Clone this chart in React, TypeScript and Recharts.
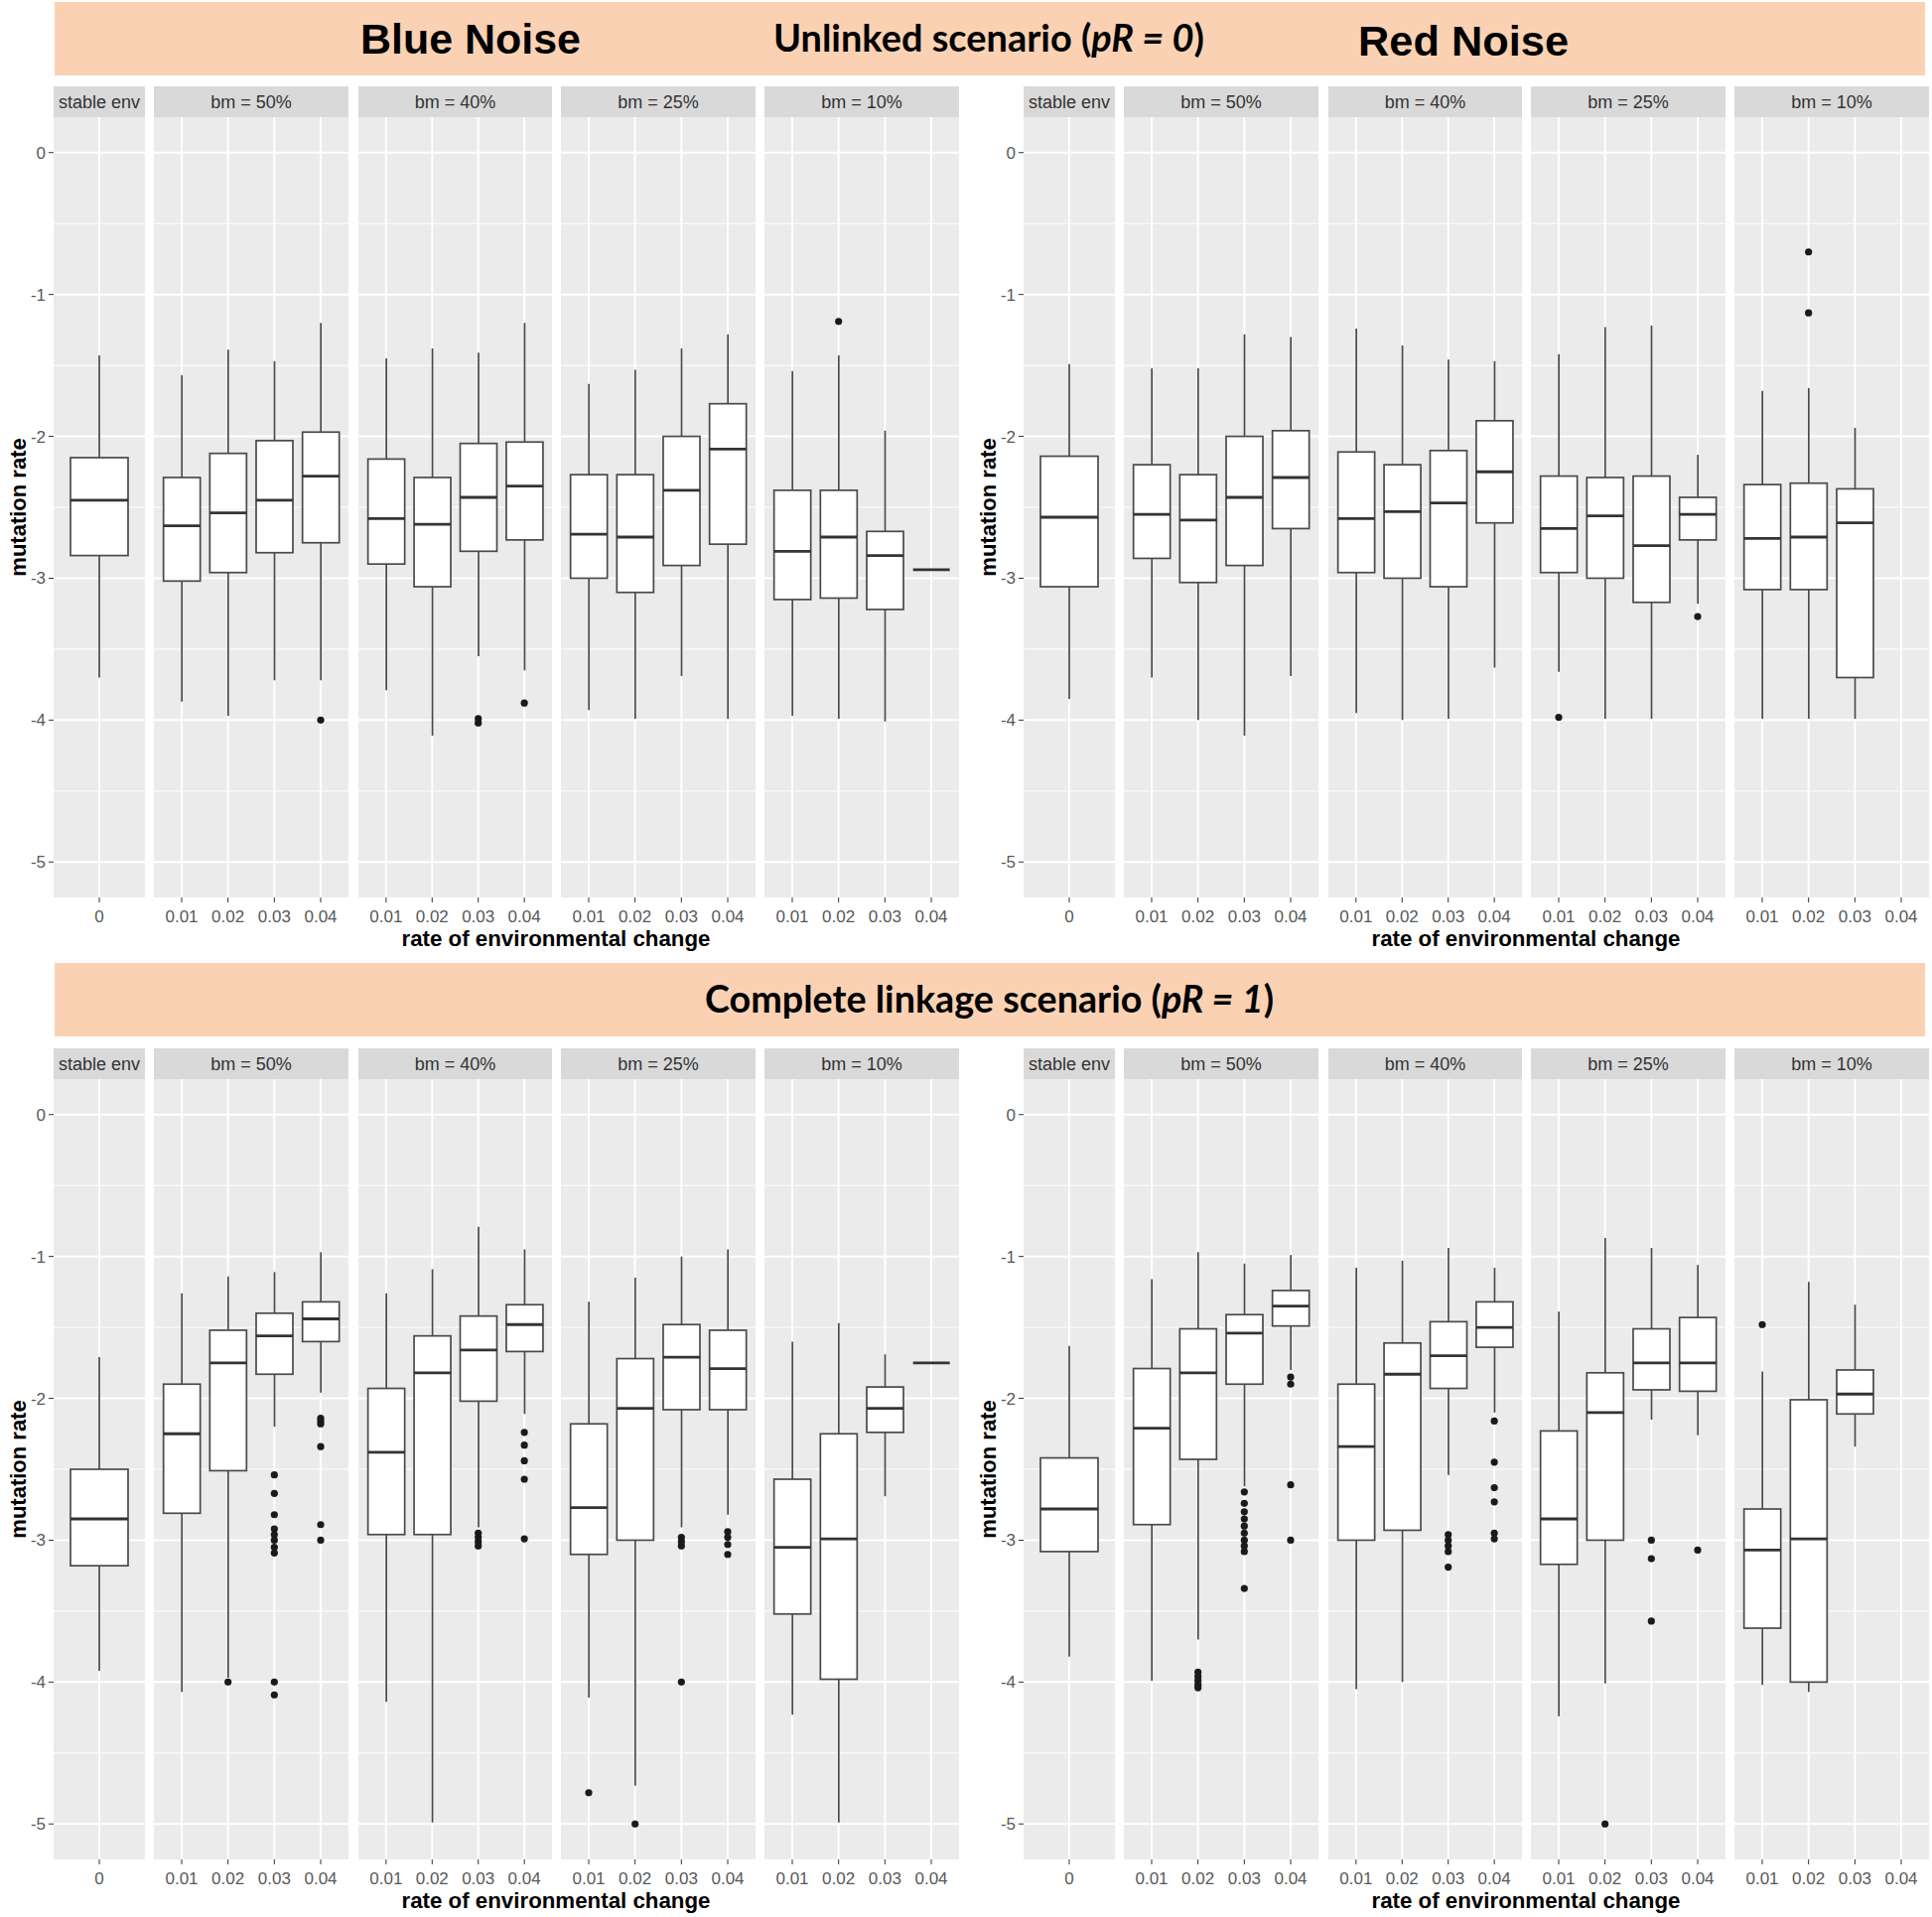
import React from 'react';
import { ComposedChart, Bar, Line, XAxis, YAxis, CartesianGrid } from 'recharts';

// ---------- labels / ticks ----------
const PANEL_LABELS = ['stable env', 'bm = 50%', 'bm = 40%', 'bm = 25%', 'bm = 10%'];
const STABLE_CATEGORIES = ['0'];
const RATE_CATEGORIES = ['0.01', '0.02', '0.03', '0.04'];
const Y_TICKS = [-5, -4, -3, -2, -1, 0];
const Y_MINOR = [-4.5, -3.5, -2.5, -1.5, -0.5];
const Y_DOMAIN = [-5.25, 0.25];

// ---------- data (order: stable, bm50 x4, bm40 x4, bm25 x4, bm10 x4) ----------
const BLUE_UNLINKED_LOW = [-3.70, -3.87, -3.97, -3.72, -3.72, -3.79, -4.11, -3.55, -3.65, -3.93, -3.99, -3.69, -3.99, -3.97, -3.99, -4.01, -2.94];
const BLUE_UNLINKED_Q1 = [-2.84, -3.02, -2.96, -2.82, -2.75, -2.90, -3.06, -2.81, -2.73, -3.00, -3.10, -2.91, -2.76, -3.15, -3.14, -3.22, -2.94];
const BLUE_UNLINKED_MED = [-2.45, -2.63, -2.54, -2.45, -2.28, -2.58, -2.62, -2.43, -2.35, -2.69, -2.71, -2.38, -2.09, -2.81, -2.71, -2.84, -2.94];
const BLUE_UNLINKED_Q3 = [-2.15, -2.29, -2.12, -2.03, -1.97, -2.16, -2.29, -2.05, -2.04, -2.27, -2.27, -2.00, -1.77, -2.38, -2.38, -2.67, -2.94];
const BLUE_UNLINKED_HIGH = [-1.43, -1.57, -1.39, -1.47, -1.20, -1.45, -1.38, -1.41, -1.20, -1.63, -1.53, -1.38, -1.28, -1.54, -1.43, -1.96, -2.94];
const BLUE_UNLINKED_OUT = [[], [], [], [], [-4.0], [], [], [-3.99, -4.02], [-3.88], [], [], [], [], [], [-1.19], [], []];

const RED_UNLINKED_LOW = [-3.85, -3.70, -4.00, -4.11, -3.69, -3.95, -4.00, -3.99, -3.63, -3.66, -3.99, -3.99, -3.18, -3.99, -3.99, -3.99, null];
const RED_UNLINKED_Q1 = [-3.06, -2.86, -3.03, -2.91, -2.65, -2.96, -3.00, -3.06, -2.61, -2.96, -3.00, -3.17, -2.73, -3.08, -3.08, -3.70, null];
const RED_UNLINKED_MED = [-2.57, -2.55, -2.59, -2.43, -2.29, -2.58, -2.53, -2.47, -2.25, -2.65, -2.56, -2.77, -2.55, -2.72, -2.71, -2.61, null];
const RED_UNLINKED_Q3 = [-2.14, -2.20, -2.27, -2.00, -1.96, -2.11, -2.20, -2.10, -1.89, -2.28, -2.29, -2.28, -2.43, -2.34, -2.33, -2.37, null];
const RED_UNLINKED_HIGH = [-1.49, -1.52, -1.52, -1.28, -1.30, -1.24, -1.36, -1.46, -1.47, -1.42, -1.23, -1.22, -2.13, -1.68, -1.66, -1.94, null];
const RED_UNLINKED_OUT = [[], [], [], [], [], [], [], [], [], [-3.98], [], [], [-3.27], [], [-0.70, -1.13], [], []];

const BLUE_COMPLETE_LOW = [-3.92, -4.07, -3.97, -2.20, -1.96, -4.14, -4.99, -2.91, -2.11, -4.11, -4.73, -2.91, -2.82, -4.23, -4.99, -2.69, -1.75];
const BLUE_COMPLETE_Q1 = [-3.18, -2.81, -2.51, -1.83, -1.60, -2.96, -2.96, -2.02, -1.67, -3.10, -3.00, -2.08, -2.08, -3.52, -3.98, -2.24, -1.75];
const BLUE_COMPLETE_MED = [-2.85, -2.25, -1.75, -1.56, -1.44, -2.38, -1.82, -1.66, -1.48, -2.77, -2.07, -1.71, -1.79, -3.05, -2.99, -2.07, -1.75];
const BLUE_COMPLETE_Q3 = [-2.50, -1.90, -1.52, -1.40, -1.32, -1.93, -1.56, -1.42, -1.34, -2.18, -1.72, -1.48, -1.52, -2.57, -2.25, -1.92, -1.75];
const BLUE_COMPLETE_HIGH = [-1.71, -1.26, -1.14, -1.11, -0.97, -1.26, -1.09, -0.79, -0.95, -1.32, -1.15, -1.00, -0.95, -1.60, -1.47, -1.69, -1.75];
const BLUE_COMPLETE_OUT = [
  [], [], [-4.0],
  [-2.54, -2.67, -2.82, -2.92, -2.96, -3.00, -3.05, -3.09, -4.00, -4.09],
  [-2.14, -2.16, -2.18, -2.34, -2.89, -3.00],
  [], [], [-2.95, -2.98, -3.01, -3.04], [-2.24, -2.33, -2.44, -2.57, -2.99],
  [-4.78], [-5.0], [-2.98, -3.01, -3.04, -4.0], [-2.94, -2.98, -3.03, -3.10],
  [], [], [], [],
];

const RED_COMPLETE_LOW = [-3.82, -3.99, -3.70, -2.62, -1.80, -4.05, -4.00, -2.54, -2.10, -4.24, -4.01, -2.15, -2.26, -4.02, -4.07, -2.34, null];
const RED_COMPLETE_Q1 = [-3.08, -2.89, -2.43, -1.90, -1.49, -3.00, -2.93, -1.93, -1.64, -3.17, -3.00, -1.94, -1.95, -3.62, -4.00, -2.11, null];
const RED_COMPLETE_MED = [-2.78, -2.21, -1.82, -1.54, -1.35, -2.34, -1.83, -1.70, -1.50, -2.85, -2.10, -1.75, -1.75, -3.07, -2.99, -1.97, null];
const RED_COMPLETE_Q3 = [-2.42, -1.79, -1.51, -1.41, -1.24, -1.90, -1.61, -1.46, -1.32, -2.23, -1.82, -1.51, -1.43, -2.78, -2.01, -1.80, null];
const RED_COMPLETE_HIGH = [-1.63, -1.16, -0.97, -1.05, -0.99, -1.08, -1.03, -0.94, -1.08, -1.39, -0.87, -0.94, -1.06, -1.81, -1.18, -1.34, null];
const RED_COMPLETE_OUT = [
  [], [], [-3.93, -3.96, -3.99, -4.02, -4.04],
  [-2.66, -2.74, -2.80, -2.85, -2.90, -2.95, -3.00, -3.04, -3.08, -3.34],
  [-1.85, -1.90, -2.61, -3.00],
  [], [], [-2.96, -3.00, -3.04, -3.08, -3.19], [-2.16, -2.45, -2.63, -2.73, -2.95, -2.99],
  [], [-5.0], [-3.00, -3.13, -3.57], [-3.07],
  [-1.48], [], [], [],
];

// ---------- layout ----------
const FONT = '"Liberation Sans", Arial, Helvetica, sans-serif';
const BANNER_FILL = '#FAD2B3';
const PANEL_X = [54, 155, 361, 565, 770];
const PANEL_W = [92, 196, 195, 196, 196];
const PLOT_TOP = 118;
const PLOT_H = 786;
const STRIP_H = 31;
const AXIS_W = 54;
const X_AXIS_H = 46;
const BOX_STROKE = '#4a4a4a';

const QUADRANTS = [
  { dx: 0, dy: 0, low: BLUE_UNLINKED_LOW, q1: BLUE_UNLINKED_Q1, med: BLUE_UNLINKED_MED, q3: BLUE_UNLINKED_Q3, high: BLUE_UNLINKED_HIGH, out: BLUE_UNLINKED_OUT },
  { dx: 977, dy: 0, low: RED_UNLINKED_LOW, q1: RED_UNLINKED_Q1, med: RED_UNLINKED_MED, q3: RED_UNLINKED_Q3, high: RED_UNLINKED_HIGH, out: RED_UNLINKED_OUT },
  { dx: 0, dy: 969, low: BLUE_COMPLETE_LOW, q1: BLUE_COMPLETE_Q1, med: BLUE_COMPLETE_MED, q3: BLUE_COMPLETE_Q3, high: BLUE_COMPLETE_HIGH, out: BLUE_COMPLETE_OUT },
  { dx: 977, dy: 969, low: RED_COMPLETE_LOW, q1: RED_COMPLETE_Q1, med: RED_COMPLETE_MED, q3: RED_COMPLETE_Q3, high: RED_COMPLETE_HIGH, out: RED_COMPLETE_OUT },
];

const MAX_OUT = Math.max(
  ...[BLUE_UNLINKED_OUT, RED_UNLINKED_OUT, BLUE_COMPLETE_OUT, RED_COMPLETE_OUT].map((a) => Math.max(...a.map((o) => o.length)))
);
const OUT_KEYS = Array.from({ length: MAX_OUT }, (_, i) => 'o' + i);

function buildRows(q: any, panel: number) {
  const cats = panel === 0 ? STABLE_CATEGORIES : RATE_CATEGORIES;
  const start = panel === 0 ? 0 : 1 + (panel - 1) * 4;
  return cats.map((c, j) => {
    const i = start + j;
    const row: any = { x: j + 1, cat: c, lo: q.low[i], q1: q.q1[i], med: q.med[i], q3: q.q3[i], hi: q.high[i] };
    row.range = q.low[i] == null ? null : [q.low[i], q.high[i]];
    const outs = q.out[i] || [];
    OUT_KEYS.forEach((k, m) => {
      row[k] = m < outs.length ? outs[m] : null;
    });
    return row;
  });
}

const BoxShape = (props: any) => {
  const { x, y, width, height } = props;
  const d = props.payload || {};
  if (d.lo == null || d.hi == null || !isFinite(x) || !isFinite(y)) return <g />;
  const h = isFinite(height) ? height : 0;
  const top = Math.min(y, y + h);
  const span = Math.abs(h);
  const px = (v: number) => (d.hi === d.lo ? top : top + ((d.hi - v) / (d.hi - d.lo)) * span);
  const cx = x + width / 2;
  const yq3 = px(d.q3);
  const yq1 = px(d.q1);
  const ym = px(d.med);
  return (
    <g>
      <line x1={cx} x2={cx} y1={top} y2={top + span} stroke={BOX_STROKE} strokeWidth={1.7} />
      {yq1 - yq3 > 0 && (
        <rect x={x} y={yq3} width={width} height={yq1 - yq3} fill="#FFFFFF" stroke={BOX_STROKE} strokeWidth={1.7} />
      )}
      <line x1={x} x2={x + width} y1={ym} y2={ym} stroke="#333333" strokeWidth={2.8} />
    </g>
  );
};

function Panel({ q, panel }: { q: any; panel: number }) {
  const showY = panel === 0;
  const cats = panel === 0 ? STABLE_CATEGORIES : RATE_CATEGORIES;
  const rows = buildRows(q, panel);
  const w = PANEL_W[panel] + (showY ? AXIS_W : 0);
  const left = q.dx + PANEL_X[panel] - (showY ? AXIS_W : 0);
  const top = q.dy + PLOT_TOP;
  const xTicks = cats.map((_, i) => i + 1);
  return (
    <div style={{ position: 'absolute', left, top, width: w, height: PLOT_H + X_AXIS_H }}>
      <ComposedChart width={w} height={PLOT_H + X_AXIS_H} data={rows} margin={{ top: 0, right: 0, bottom: 0, left: 0 }}>
        <CartesianGrid
          fill="#EBEBEB"
          stroke="#FFFFFF"
          strokeWidth={1}
          horizontalValues={Y_MINOR}
          vertical={false}
          syncWithTicks
        />
        <CartesianGrid
          stroke="#FFFFFF"
          strokeWidth={2}
          horizontalValues={Y_TICKS}
          verticalValues={xTicks}
          syncWithTicks
        />
        <XAxis
          dataKey="x"
          type="number"
          domain={[0.4, cats.length + 0.6]}
          ticks={xTicks}
          interval={0}
          allowDataOverflow
          tickFormatter={(v: number) => cats[Math.round(v) - 1]}
          axisLine={false}
          tickLine={{ stroke: '#333333' }}
          tickSize={5}
          tickMargin={8}
          height={X_AXIS_H}
          tick={{ fill: '#595959', fontSize: 17, fontFamily: FONT }}
        />
        <YAxis
          type="number"
          domain={Y_DOMAIN}
          ticks={Y_TICKS}
          interval={0}
          allowDataOverflow
          hide={!showY}
          width={AXIS_W}
          axisLine={false}
          tickLine={{ stroke: '#333333' }}
          tickSize={5}
          tickMargin={3}
          tick={{ fill: '#595959', fontSize: 17, fontFamily: FONT }}
        />
        <Bar dataKey="range" barSize={panel === 0 ? 58 : 37} shape={BoxShape} isAnimationActive={false} />
        {OUT_KEYS.map((k) => (
          <Line
            key={k}
            type="linear"
            dataKey={k}
            stroke="none"
            dot={{ r: 3.6, fill: '#1A1A1A', stroke: 'none', strokeWidth: 0 }}
            activeDot={false}
            connectNulls={false}
            isAnimationActive={false}
          />
        ))}
      </ComposedChart>
    </div>
  );
}

export default function App() {
  return (
    <div style={{ position: 'absolute', left: 0, top: 0, width: 1946, height: 1931, background: '#FFFFFF' }}>
      <svg width={1946} height={1931} style={{ position: 'absolute', left: 0, top: 0 }}>
        {/* banners */}
        <rect x={55} y={2} width={1884} height={74} fill={BANNER_FILL} />
        <rect x={55} y={970} width={1884} height={74} fill={BANNER_FILL} />
        <text x={363} y={54} fontFamily={FONT} fontWeight="bold" fontSize={43} fill="#000" textLength={222} lengthAdjust="spacingAndGlyphs">
          Blue Noise
        </text>
        <text x={1368} y={56} fontFamily={FONT} fontWeight="bold" fontSize={43} fill="#000" textLength={212} lengthAdjust="spacingAndGlyphs">
          Red Noise
        </text>
        <text x={779} y={52} fontFamily="Lato, 'Open Sans', sans-serif" fontWeight="bold" fontSize={38} fill="#000" textLength={434} lengthAdjust="spacingAndGlyphs">
          Unlinked scenario (<tspan fontStyle="italic">pR = 0</tspan>)
        </text>
        <text x={710} y={1020} fontFamily="Lato, 'Open Sans', sans-serif" fontWeight="bold" fontSize={38} fill="#000" textLength={573} lengthAdjust="spacingAndGlyphs">
          Complete linkage scenario (<tspan fontStyle="italic">pR = 1</tspan>)
        </text>
        {QUADRANTS.map((q, qi) => (
          <g key={qi}>
            {PANEL_LABELS.map((lab, p) => (
              <g key={p}>
                <rect x={q.dx + PANEL_X[p]} y={q.dy + PLOT_TOP - STRIP_H} width={PANEL_W[p]} height={STRIP_H} fill="#D9D9D9" />
                <text
                  x={q.dx + PANEL_X[p] + PANEL_W[p] / 2}
                  y={q.dy + PLOT_TOP - STRIP_H / 2 + 6}
                  textAnchor="middle"
                  fontFamily={FONT}
                  fontSize={18}
                  fill="#333333"
                >
                  {lab}
                </text>
              </g>
            ))}
            <text
              transform={`translate(${q.dx + 26}, ${q.dy + PLOT_TOP + PLOT_H / 2}) rotate(-90)`}
              textAnchor="middle"
              fontFamily={FONT}
              fontWeight="bold"
              fontSize={22}
              fill="#000"
            >
              mutation rate
            </text>
            <text
              x={q.dx + 560}
              y={q.dy + 953}
              textAnchor="middle"
              fontFamily={FONT}
              fontWeight="bold"
              fontSize={22.3}
              fill="#000"
            >
              rate of environmental change
            </text>
          </g>
        ))}
      </svg>
      {QUADRANTS.map((q, qi) => PANEL_LABELS.map((_, p) => <Panel key={qi + '-' + p} q={q} panel={p} />))}
    </div>
  );
}
